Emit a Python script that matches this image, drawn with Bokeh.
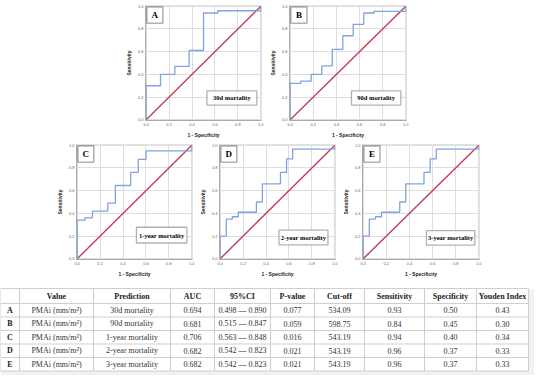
from bokeh.plotting import figure
from bokeh.layouts import column, row
from bokeh.models import Spacer, Range1d, FixedTicker, PrintfTickFormatter, BoxAnnotation, Label
from bokeh.core.properties import value
from bokeh.embed import file_html
from bokeh.resources import INLINE

# ---------------- ROC data ----------------
roc_a_fpr = [0, 0, 0.125, 0.125, 0.25, 0.25, 0.375, 0.375, 0.5, 0.5, 0.625, 0.625, 1.0, 1.0]
roc_a_tpr = [0, 0.30, 0.30, 0.40, 0.40, 0.47, 0.47, 0.61, 0.61, 0.94, 0.94, 0.96, 0.96, 1.0]

roc_b_fpr = [0, 0, 0.091, 0.091, 0.182, 0.182, 0.273, 0.273, 0.364, 0.364, 0.455, 0.455,
             0.545, 0.545, 0.636, 0.636, 0.727, 0.727, 1.0, 1.0]
roc_b_tpr = [0, 0.32, 0.32, 0.34, 0.34, 0.40, 0.40, 0.475, 0.475, 0.62, 0.62, 0.74,
             0.74, 0.84, 0.84, 0.94, 0.94, 0.955, 0.955, 1.0]

roc_c_fpr = [0, 0, 0.067, 0.067, 0.133, 0.133, 0.267, 0.267, 0.333, 0.333, 0.467, 0.467,
             0.533, 0.533, 0.6, 0.6, 1.0, 1.0]
roc_c_tpr = [0, 0.34, 0.34, 0.36, 0.36, 0.42, 0.42, 0.49, 0.49, 0.645, 0.645, 0.76,
             0.76, 0.875, 0.875, 0.95, 0.95, 1.0]

roc_d_fpr = [0, 0, 0.053, 0.053, 0.105, 0.105, 0.158, 0.158, 0.316, 0.316, 0.368, 0.368,
             0.526, 0.526, 0.579, 0.579, 0.632, 0.632, 1.0, 1.0]
roc_d_tpr = [0, 0.20, 0.20, 0.35, 0.35, 0.37, 0.37, 0.41, 0.41, 0.50, 0.50, 0.66,
             0.66, 0.76, 0.76, 0.88, 0.88, 0.965, 0.965, 1.0]

roc_e_fpr = [0, 0, 0.053, 0.053, 0.105, 0.105, 0.158, 0.158, 0.316, 0.316, 0.368, 0.368,
             0.526, 0.526, 0.579, 0.579, 0.632, 0.632, 1.0, 1.0]
roc_e_tpr = [0, 0.20, 0.20, 0.35, 0.35, 0.37, 0.37, 0.41, 0.41, 0.50, 0.50, 0.66,
             0.66, 0.76, 0.76, 0.88, 0.88, 0.965, 0.965, 1.0]

diag_x = [0, 1]
diag_y = [0, 1]
tick_values = [0.0, 0.2, 0.4, 0.6, 0.8, 1.0]

# ---------------- Table data ----------------
row_ids = ["A", "B", "C", "D", "E"]
value_col = ["PMAi (mm/m²)", "PMAi (mm/m²)", "PMAi (mm/m²)", "PMAi (mm/m²)", "PMAi (mm/m²)"]
prediction = ["30d mortality", "90d mortality", "1-year mortality", "2-year mortality", "3-year mortality"]
auc = [0.694, 0.681, 0.706, 0.682, 0.682]
ci_low = [0.498, 0.515, 0.563, 0.542, 0.542]
ci_high = [0.890, 0.847, 0.848, 0.823, 0.823]
p_value = [0.077, 0.059, 0.016, 0.021, 0.021]
cut_off = [534.09, 598.75, 543.19, 543.19, 543.19]
sensitivity = [0.93, 0.84, 0.94, 0.96, 0.96]
specificity = [0.50, 0.45, 0.40, 0.37, 0.37]
youden = [0.43, 0.30, 0.34, 0.33, 0.33]
headers = ["", "Value", "Prediction", "AUC", "95%CI", "P-value", "Cut-off",
           "Sensitivity", "Specificity", "Youden Index"]

BLUE = "#80A4DE"
RED = "#C53A5E"
SERIF = "Liberation Serif"
SANS = "Liberation Sans"


def roc_fig(fpr, tpr, letter, title, fw, fh, bl, br, bt, bb, tbox):
    p = figure(frame_width=fw, frame_height=fh,
               x_range=Range1d(-0.006, 1.006), y_range=Range1d(-0.006, 1.006),
               output_backend="svg", toolbar_location=None,
               min_border_left=bl, min_border_right=br, min_border_top=bt, min_border_bottom=bb,
               x_axis_label="1 - Specificity", y_axis_label="Sensitivity")
    p.background_fill_color = "white"
    p.border_fill_color = "white"
    p.outline_line_color = "#e2e2e2"
    for ax in (p.xaxis[0], p.yaxis[0]):
        ax.ticker = FixedTicker(ticks=tick_values)
        ax.formatter = PrintfTickFormatter(format="%.1f")
        ax.major_label_text_font_size = "4px"
        ax.major_label_text_font = SANS
        ax.major_label_text_color = "#666666"
        ax.major_tick_out = 0
        ax.major_tick_in = 0
        ax.minor_tick_out = 0
        ax.minor_tick_in = 0
        ax.major_label_standoff = 2
        ax.axis_label_text_font_size = "5px"
        ax.axis_label_text_font = SANS
        ax.axis_label_text_font_style = "bold"
        ax.axis_label_text_color = "#222222"
        ax.axis_label_standoff = 3
        ax.axis_line_color = "#aaaaaa"
    p.grid.grid_line_color = "#dedede"
    p.grid.grid_line_width = 1

    p.line(diag_x, diag_y, line_color=RED, line_width=1.4)
    p.line(fpr, tpr, line_color=BLUE, line_width=1.3)

    # letter box (top-left)
    p.add_layout(BoxAnnotation(left=0.006, right=0.145, bottom=0.85, top=0.994,
                               fill_color="white", fill_alpha=1.0,
                               line_color="black", line_width=1.6))
    p.add_layout(Label(x=0.0755, y=0.922, text=letter, text_align="center", text_baseline="middle",
                       text_font=SERIF, text_font_style="bold", text_font_size="9px",
                       text_color="black"))
    # title box
    l, r, b, t = tbox
    p.add_layout(BoxAnnotation(left=l, right=r, bottom=b, top=t,
                               fill_color="white", fill_alpha=1.0,
                               line_color="black", line_width=1.3))
    p.add_layout(Label(x=(l + r) / 2, y=(b + t) / 2, text=title, text_align="center",
                       text_baseline="middle", text_font=SERIF, text_font_style="bold",
                       text_font_size="6.5px", text_color="black"))
    return p


figA = roc_fig(roc_a_fpr, roc_a_tpr, "A", "30d mortality", 116, 115, 18, 5, 2, 16, (0.53, 0.965, 0.13, 0.255))
figB = roc_fig(roc_b_fpr, roc_b_tpr, "B", "90d mortality", 117, 115, 18, 5, 2, 16, (0.53, 0.957, 0.13, 0.255))
figC = roc_fig(roc_c_fpr, roc_c_tpr, "C", "1-year mortality", 116, 115, 18, 4, 4, 20, (0.517, 0.957, 0.139, 0.278))
figD = roc_fig(roc_d_fpr, roc_d_tpr, "D", "2-year mortality", 116, 115, 18, 4, 4, 20, (0.513, 0.94, 0.122, 0.252))
figE = roc_fig(roc_e_fpr, roc_e_tpr, "E", "3-year mortality", 117, 115, 18, 5, 4, 20, (0.547, 0.966, 0.12, 0.248))

top_gap = Spacer(width=10, height=3)
row1 = row(Spacer(width=122, height=133), figA, figB)
row2 = row(Spacer(width=53, height=139), figC, figD, figE)

# ---------------- Table figure ----------------
col_edges = [8, 27, 101, 178, 222, 278, 322, 372, 432, 484, 536]
row_edges = [289, 304, 317.5, 331, 344.5, 358, 371.5]

tab = figure(width=534, height=96, x_range=Range1d(8, 542), y_range=Range1d(376, 280),
             output_backend="svg", toolbar_location=None, min_border=0,
             x_axis_location=None, y_axis_location=None)
tab.outline_line_color = None
tab.grid.visible = False
tab.background_fill_color = "white"
tab.border_fill_color = "white"

# shadow band and table body
tab.quad(left=[col_edges[0]], right=[542], top=[row_edges[0] + 1], bottom=[378],
         fill_color="#f1f1f1", line_color=None)
tab.quad(left=[col_edges[0]], right=[col_edges[-1]], top=[row_edges[0]], bottom=[row_edges[-1]],
         fill_color="white", line_color="#cfcfcf", line_width=1)
# grid lines
tab.segment(x0=col_edges[1:-1], y0=[row_edges[0]] * (len(col_edges) - 2),
            x1=col_edges[1:-1], y1=[row_edges[-1]] * (len(col_edges) - 2),
            line_color="#cfcfcf", line_width=1)
tab.segment(x0=[col_edges[0]] * (len(row_edges) - 2), y0=row_edges[1:-1],
            x1=[col_edges[-1]] * (len(row_edges) - 2), y1=row_edges[1:-1],
            line_color="#cfcfcf", line_width=1)

col_centers = [(col_edges[i] + col_edges[i + 1]) / 2 for i in range(len(col_edges) - 1)]
row_centers = [(row_edges[i] + row_edges[i + 1]) / 2 for i in range(len(row_edges) - 1)]

# header
tab.text(x=col_centers, y=[row_centers[0]] * len(headers), text=headers,
         text_align="center", text_baseline="middle", text_font=value(SERIF),
         text_font_style="bold", text_font_size="8px", text_color="#222222")

# body
body_cols = [
    value_col,
    prediction,
    [f"{v:.3f}" for v in auc],
    [f"{a:.3f} — {b:.3f}" for a, b in zip(ci_low, ci_high)],
    [f"{v:.3f}" for v in p_value],
    [f"{v:.2f}" for v in cut_off],
    [f"{v:.2f}" for v in sensitivity],
    [f"{v:.2f}" for v in specificity],
    [f"{v:.2f}" for v in youden],
]
tab.text(x=[col_centers[0]] * len(row_ids), y=row_centers[1:], text=row_ids,
         text_align="center", text_baseline="middle", text_font=value(SERIF),
         text_font_style="bold", text_font_size="8px", text_color="#222222")
xs, ys, ts = [], [], []
for ci, colvals in enumerate(body_cols):
    for ri, t in enumerate(colvals):
        xs.append(col_centers[ci + 1])
        ys.append(row_centers[ri + 1])
        ts.append(t)
tab.text(x=xs, y=ys, text=ts, text_align="center", text_baseline="middle",
         text_font=value(SERIF), text_font_size="8px", text_color="#333333")

layout = column(top_gap, row1, row2, tab)

open("out.html", "w").write(file_html(layout, INLINE))
